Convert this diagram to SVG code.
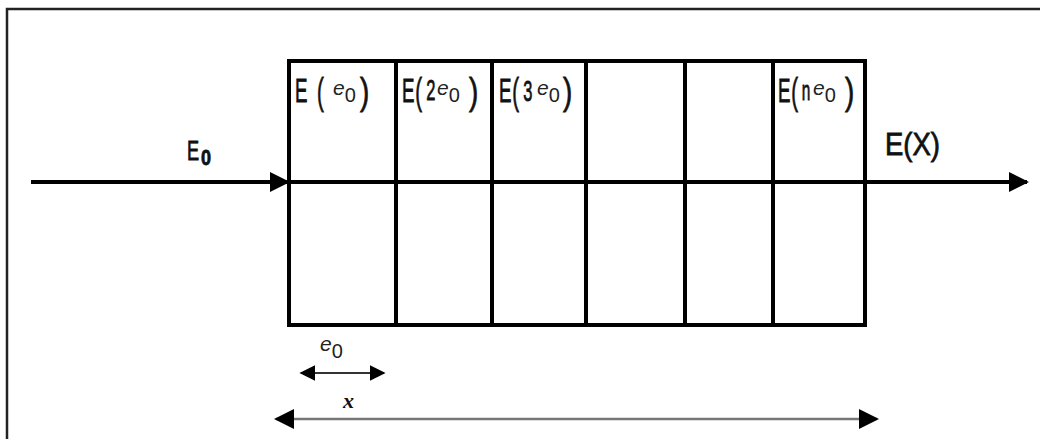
<svg xmlns="http://www.w3.org/2000/svg" width="1040" height="439" viewBox="0 0 1040 439">
<defs>
<style>
.cell{fill:none;stroke:#000;stroke-width:4}
.lbl{font-family:"Liberation Sans",Arial,sans-serif;fill:#111;stroke:#111;stroke-width:0.8}
.big{font-size:34px}
.par{font-size:37px}
.sub{font-family:"Liberation Sans",Arial,sans-serif;fill:#222;font-size:20px}
.ee{font-size:21px;font-style:italic}
.ser{font-family:"Liberation Serif","Times New Roman",serif;font-weight:bold;font-style:italic;fill:#111}
</style>
<marker id="ah" viewBox="0 0 10 10" refX="9" refY="5" markerWidth="5" markerHeight="5" orient="auto-start-reverse" markerUnits="strokeWidth"><path d="M0,0 L10,5 L0,10 Z" fill="#000"/></marker>
<marker id="ah2" viewBox="0 0 10 10" refX="9" refY="5" markerWidth="8" markerHeight="8" orient="auto-start-reverse" markerUnits="strokeWidth"><path d="M0,0 L10,5 L0,10 Z" fill="#000"/></marker>
</defs>
<rect width="1040" height="439" fill="#fff"/>
<path d="M7,441 L7,9 L1042,9" fill="none" stroke="#222" stroke-width="2.5"/>
<g id="connectors">
<line x1="31" y1="182" x2="288" y2="182" stroke="#000" stroke-width="4" marker-end="url(#ah)"/>
<line x1="289" y1="182" x2="1027" y2="182" stroke="#000" stroke-width="4" marker-end="url(#ah)"/>
<line x1="301" y1="373" x2="384" y2="373" stroke="#333" stroke-width="2" marker-start="url(#ah2)" marker-end="url(#ah2)"/>
<line x1="276" y1="419" x2="877" y2="419" stroke="#777" stroke-width="2.5" marker-start="url(#ah2)" marker-end="url(#ah2)"/>
</g>
<g id="slab">
<rect class="cell" x="289" y="61" width="576" height="264"/>
<line class="cell" x1="396" y1="61" x2="396" y2="325"/>
<line class="cell" x1="492" y1="61" x2="492" y2="325"/>
<line class="cell" x1="586" y1="61" x2="586" y2="325"/>
<line class="cell" x1="685" y1="61" x2="685" y2="325"/>
<line class="cell" x1="773" y1="61" x2="773" y2="325"/>
</g>
<g id="cell1">
<text class="lbl" transform="translate(295,102) scale(0.55,1)"><tspan class="big" x="0" y="0">E</tspan><tspan class="par" x="40" y="2">(</tspan></text>
<text class="sub" x="333" y="95"><tspan class="ee">e</tspan><tspan dy="7">0</tspan></text>
<text class="lbl par" transform="translate(360,104) scale(0.75,1)">)</text>
</g>
<g id="cell2">
<text class="lbl" transform="translate(402,102) scale(0.55,1)"><tspan class="big" x="0" y="0">E</tspan><tspan class="par" x="24" y="2">(</tspan><tspan x="44" y="-2" font-size="30">2</tspan></text>
<text class="sub" x="437" y="95"><tspan class="ee">e</tspan><tspan dy="7">0</tspan></text>
<text class="lbl par" transform="translate(469,104) scale(0.75,1)">)</text>
</g>
<g id="cell3">
<text class="lbl" transform="translate(499,102) scale(0.55,1)"><tspan class="big" x="0" y="0">E</tspan><tspan class="par" x="24" y="2">(</tspan><tspan x="44" y="-1" font-size="30">3</tspan></text>
<text class="sub" x="537" y="95"><tspan class="ee">e</tspan><tspan dy="7">0</tspan></text>
<text class="lbl par" transform="translate(563,104) scale(0.75,1)">)</text>
</g>
<g id="celln">
<text class="lbl" transform="translate(778,102) scale(0.55,1)"><tspan class="big" x="0" y="0">E</tspan><tspan class="par" x="24" y="2">(</tspan><tspan x="43" y="-2" font-size="28">n</tspan></text>
<text class="sub" x="813" y="95"><tspan class="ee">e</tspan><tspan dy="7">0</tspan></text>
<text class="lbl par" transform="translate(845,104) scale(0.75,1)">)</text>
</g>
<g id="E0">
<text class="lbl" font-size="28" transform="translate(187,160) scale(0.65,1)">E</text>
<text class="lbl" font-size="22" font-weight="bold" transform="translate(201,165) scale(0.82,1)">0</text>
</g>
<g id="EX"><text class="lbl" font-size="32" transform="translate(885,155) scale(0.86,1)">E(X)</text></g>
<g id="e0dim"><text class="sub" x="320" y="351"><tspan class="ee">e</tspan><tspan dy="7">0</tspan></text></g>
<g id="xdim"><text class="ser" x="343" y="408" font-size="22">x</text></g>
</svg>
